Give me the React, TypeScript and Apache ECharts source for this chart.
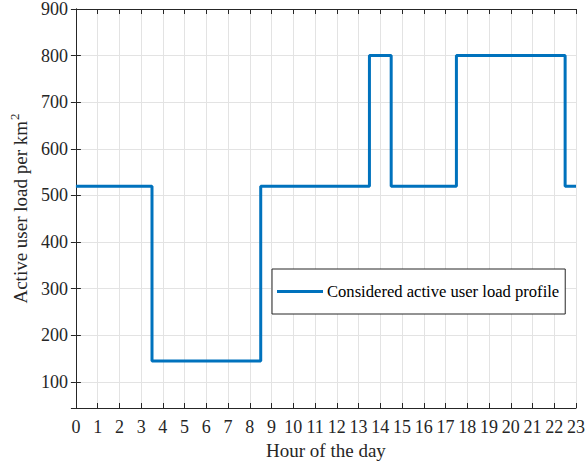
import React, { useEffect, useRef } from "react";
import * as echarts from "echarts";

const hours = [0, 1, 2, 3, 4, 5, 6, 7, 8, 9, 10, 11, 12, 13, 14, 15, 16, 17, 18, 19, 20, 21, 22, 23];
const loadValues = [520, 520, 520, 520, 145, 145, 145, 145, 145, 520, 520, 520, 520, 520, 800, 520, 520, 520, 800, 800, 800, 800, 800, 520];
const seriesName = "Considered active user load profile";
const xTitle = "Hour of the day";

const FONT = "'Liberation Serif', 'Times New Roman', serif";
const AXIS = "#262626";

export default function App() {
  const ref = useRef<HTMLDivElement>(null);
  useEffect(() => {
    if (!ref.current) return;
    const chart = echarts.init(ref.current, undefined, { renderer: "svg" });
    const common = {
      axisLine: { show: true, lineStyle: { color: AXIS, width: 1 } },
      axisTick: { show: true, inside: true, length: 5, lineStyle: { color: AXIS } },
    };
    const yFmt = (v: number) => (Math.abs(v % 100) < 1e-6 ? String(v) : "");
    chart.setOption({
      animation: false,
      backgroundColor: "#ffffff",
      textStyle: { fontFamily: FONT },
      grid: { left: 71, right: 10, top: 8, bottom: 57 },
      legend: {
        data: [seriesName],
        left: 272,
        top: 269,
        padding: [14, 6, 14, 5],
        borderColor: AXIS,
        borderWidth: 1,
        backgroundColor: "#ffffff",
        icon: "rect",
        itemWidth: 46,
        itemHeight: 3,
        itemGap: 4,
        textStyle: { fontFamily: FONT, fontSize: 16.6, color: "#000", padding: [0, 0, 0, -1] },
      },
      xAxis: [
        {
          type: "value",
          min: 0,
          max: 23,
          interval: 1,
          position: "bottom",
          name: xTitle,
          nameLocation: "middle",
          nameGap: 33,
          nameTextStyle: { fontFamily: FONT, fontSize: 19, color: "#262626" },
          ...common,
          axisLabel: { fontFamily: FONT, fontSize: 18, color: "#262626", margin: 10 },
          splitLine: { show: true, lineStyle: { color: "#e3e3e3", width: 1 } },
        },
        {
          type: "value",
          min: 0,
          max: 23,
          interval: 1,
          position: "top",
          ...common,
          axisLabel: { show: false },
          splitLine: { show: false },
        },
      ],
      yAxis: [
        {
          type: "value",
          min: 44,
          max: 900,
          splitNumber: 9,
          position: "left",
          name: "{a|Active user load per km}{s|2}",
          nameLocation: "middle",
          nameGap: 42,
          nameRotate: 90,
          nameTextStyle: {
            rich: {
              a: { fontFamily: FONT, fontSize: 19, color: "#262626", lineHeight: 22, verticalAlign: "bottom" },
              s: { fontFamily: FONT, fontSize: 13, color: "#262626", lineHeight: 22, verticalAlign: "top", padding: [0, 0, 8, 1] },
            },
          },
          ...common,
          axisLabel: {
            fontFamily: FONT,
            fontSize: 18,
            color: "#262626",
            margin: 8,
            formatter: yFmt,
          },
          splitLine: { show: true, lineStyle: { color: "#e3e3e3", width: 1 } },
        },
        {
          type: "value",
          min: 44,
          max: 900,
          splitNumber: 9,
          position: "right",
          ...common,
          axisLabel: { show: false },
          splitLine: { show: false },
        },
      ],
      series: [
        {
          name: seriesName,
          type: "line",
          step: "middle",
          data: hours.map((h, i) => [h, loadValues[i]]),
          showSymbol: false,
          symbol: "none",
          lineStyle: { color: "#0072BD", width: 3 },
          itemStyle: { color: "#0072BD" },
          z: 5,
        },
      ],
    });
    return () => chart.dispose();
  }, []);
  return <div ref={ref} style={{ width: 588, height: 465, position: "absolute", left: 0, top: 0 }} />;
}
